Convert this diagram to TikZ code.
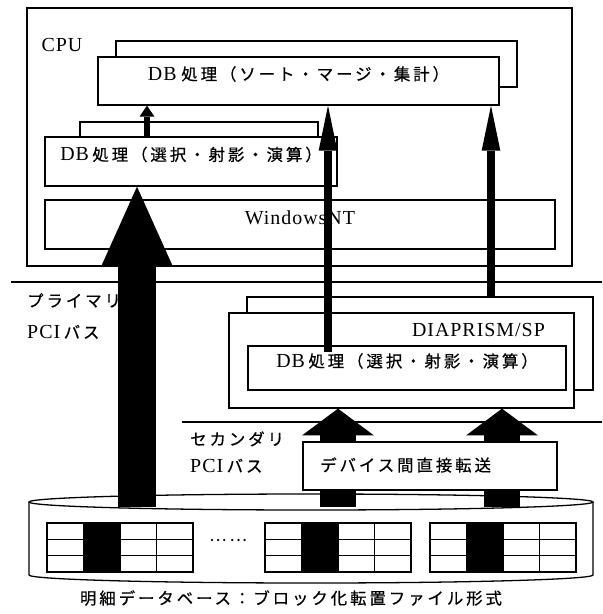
\documentclass[tikz,border=0pt]{standalone}
\usepackage{fontspec}
\setmainfont{Liberation Serif}[LetterSpace=5]
\newfontfamily\jp{Noto Sans CJK JP}[LetterSpace=18, FakeBold=0.6]
\newcommand\jtext[1]{{\jp\fontsize{14}{20}\selectfont #1}}
\usepackage{tikz}
\usetikzlibrary{arrows.meta, fit}

\begin{document}
\begin{tikzpicture}[x=0.03cm, y=-0.03cm,
    font=\fontsize{17}{20}\selectfont,
    procbox/.style={draw, fill=white, line width=1.1pt, inner sep=0pt},
    busline/.style={line width=1.1pt},
    gridline/.style={line width=1pt},
    bigarrow/.style={line width=1.14cm, -{Triangle[length=2.37cm, width=2.13cm, line width=0pt]}},
    busarrow/.style={line width=1.08cm, -{Triangle[length=0.8cm, width=2.15cm, line width=0pt]}},
    thinarrow/.style={line width=0.26cm, -{Triangle[length=1.35cm, width=0.56cm, line width=0pt]}},
    smallarrow/.style={line width=0.17cm, -{Triangle[length=0.33cm, width=0.45cm, line width=0pt]}}]
    \useasboundingbox (0,0) rectangle (602,614);

    % --- 1. 矢印の x 位置と定数 ---
    \coordinate (xb) at (137,0);
    \coordinate (xs) at (147,0);
    \coordinate (xm) at (328,0);
    \coordinate (xr) at (491,0);
    \coordinate (xl) at (338,0);
    \coordinate (xq) at (502,0);
    \coordinate (disktop) at (311,507);
    \def\cw{36.5}
    \def\rh{16.33}

    % --- 2. CPU 側のボックス ---
    \node[procbox, fit={(27,8) (572,266)}] (cpubox) {};
    \node (cpu) at (62,45) {CPU};
    \node[procbox, fit={(116,41) (517,87)}] (dbsortb) {};
    \node[procbox, fit={(98,57) (499,105)}] (dbsort) {DB\hspace{4pt}\jtext{処理（ソート・マージ・集計）}};
    \node[procbox, fit={(80,122) (318,160)}] (dbselb) {};
    \node[procbox, fit={(45,137) (337,186)}] (dbsel) {DB\hspace{3pt}\jtext{処理（選択・射影・演算）}};
    \node[procbox, fit={(45,200) (555,249)}] (winnt) {WindowsNT};

    % --- 3. プライマリ PCI バス ---
    \draw[busline] (11,282) -- (602,282);
    \node[anchor=west, align=left, inner sep=0pt, font=\fontsize{17}{27}\selectfont] (pbus) at (27,316)
        {\jtext{プライマリ}\\PCI\hspace{3pt}\jtext{バス}};

    % --- 4. DIAPRISM/SP ---
    \node[procbox, fit={(247,297) (593,390)}] (diapb) {};
    \node[procbox, fit={(229,313) (574,408)}] (diap) {};
    \node[anchor=east] (diaptag) at (549,330) {DIAPRISM/SP};
    \node[procbox, fit={(248,346) (566,390)}] (dbin) {DB\hspace{3pt}\jtext{処理（選択・射影・演算）}};

    % --- 5. セカンダリ PCI バス ---
    \draw[busline] (182,422) -- (602,422);
    \node[anchor=west, align=left, inner sep=0pt, font=\fontsize{17}{23}\selectfont] (sbus) at (190,452)
        {\jtext{セカンダリ}\\PCI\hspace{3pt}\jtext{バス}};

    % --- 6. 明細データベース（ディスク） ---
    \draw[line width=1.1pt] (311,502) ellipse [x radius=282, y radius=8];
    \draw[line width=1.1pt] (29,502) -- (29,575)
        arc[start angle=180, end angle=0, x radius=282, y radius=8] -- (593,502);
    \foreach \gx in {47,265,430}{
        \fill (\gx+\cw,523) rectangle (\gx+2*\cw,572);
        \draw[gridline] (\gx,523) rectangle (\gx+4*\cw,572);
        \foreach \i in {1,2,3}
            \draw[gridline] (\gx+\i*\cw,523) -- (\gx+\i*\cw,572);
        \foreach \j in {1,2}
            \draw[gridline] (\gx,523+\j*\rh) -- (\gx+4*\cw,523+\j*\rh);
    }
    \node (dots) at (228,540) {\jtext{……}};

    % --- 7. データの流れ ---
    \draw[bigarrow] (disktop -| xb) -- (dbsel.south -| xb);
    \draw[smallarrow] (dbsel.north -| xs) -- (dbsort.south -| xs);
    \draw[thinarrow, shorten <=-0.21cm] (dbin.north -| xm) -- (dbsort.south -| xm);
    \draw[thinarrow] (diapb.north -| xr) -- (dbsort.south -| xr);
    \draw[busarrow] (disktop -| xl) -- (diap.south -| xl);
    \draw[busarrow] (disktop -| xq) -- (diap.south -| xq);

    % --- 8. デバイス間直接転送 ---
    \node[procbox, fit={(303,442) (557,490)}] (devx) {};
    \node[anchor=west, inner sep=0pt] (devtext) at (320,465) {\jtext{デバイス間直接転送}};

    \node (caption) at (291,598) {\jtext{明細データベース：ブロック化転置ファイル形式}};

\end{tikzpicture}
\end{document}
